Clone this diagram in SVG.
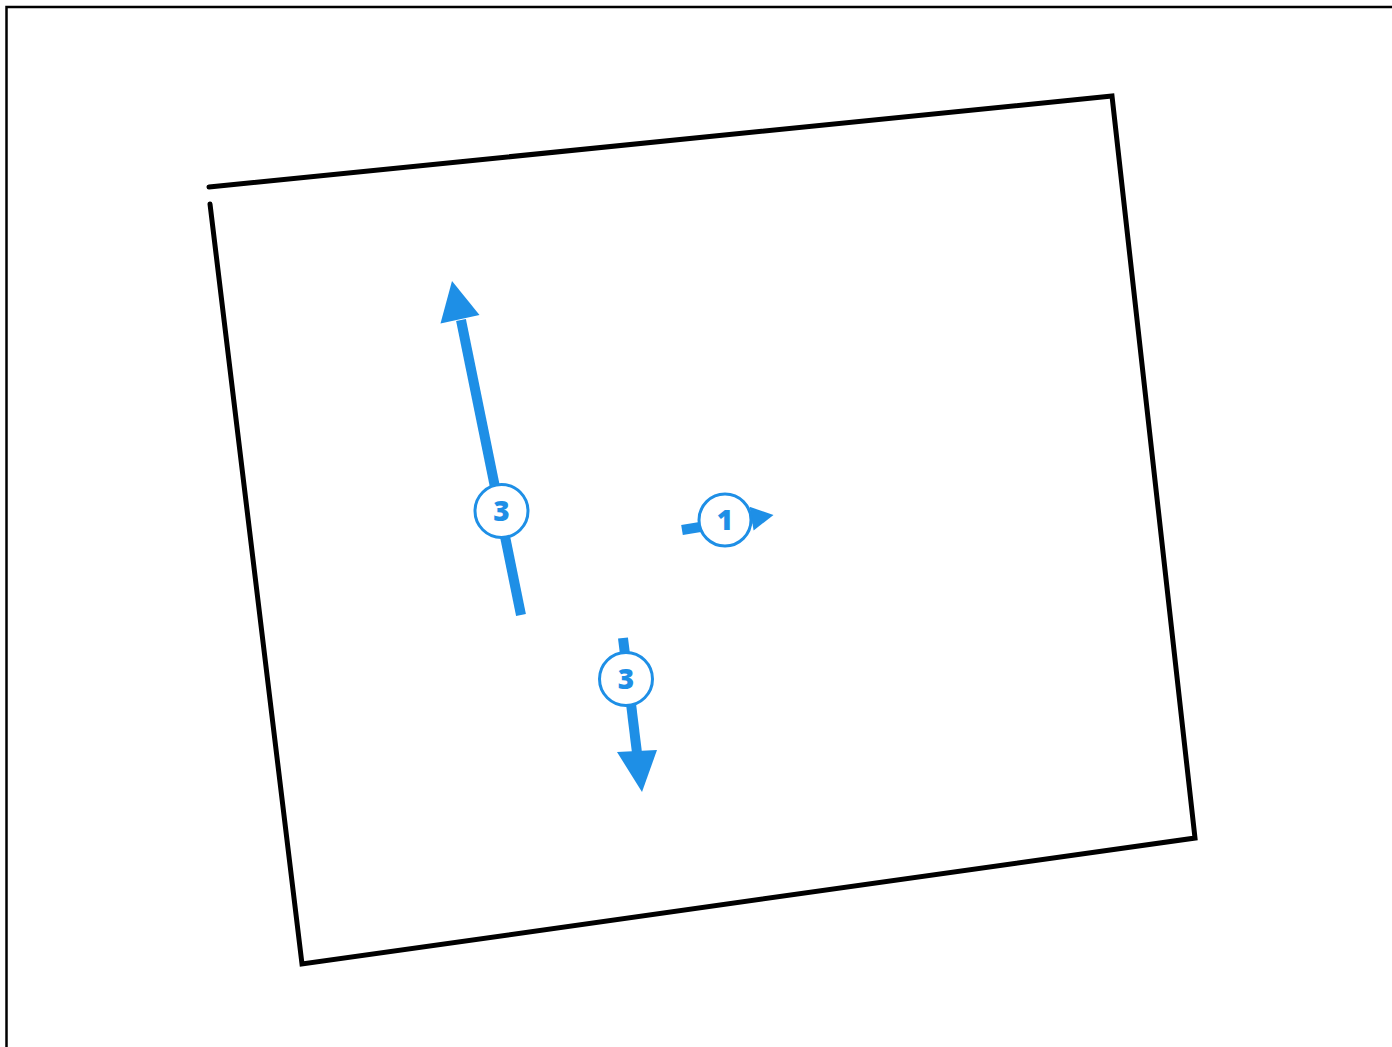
<svg xmlns="http://www.w3.org/2000/svg" width="1392" height="1047" viewBox="0 0 1392 1047">
<style>
.frame{fill:none;stroke:#000;stroke-width:2.5}
.wall{fill:none;stroke:#000;stroke-width:5;stroke-linecap:round;stroke-linejoin:miter}
.shaft{fill:none;stroke:#1e8fe6;stroke-width:10}
.head{fill:#1e8fe6;stroke:none}
.badge{fill:#fff;stroke:#1e8fe6;stroke-width:3}
.lbl{font-family:"Open Sans","DejaVu Sans",sans-serif;font-weight:800;font-size:28px;fill:#1e8fe6;text-anchor:middle;dominant-baseline:central}
</style>
<rect width="1392" height="1047" fill="#fff"/>
<rect class="frame" x="6.5" y="7" width="1400" height="1060"/>
<g id="room">
<polyline class="wall" points="209,187 1112,96 1195,838 302,964 210,204"/>
</g>
<g id="connectors">
<g id="arrow-a">
<line class="shaft" x1="521" y1="615" x2="461" y2="320"/>
<polygon class="head" points="452,281 479.5,315 440.5,323.5"/>
</g>
<g id="arrow-b">
<line class="shaft" x1="682" y1="530" x2="752" y2="518.5"/>
<polygon class="head" points="773.5,515 753.6,530.4 749.6,506.8"/>
</g>
<g id="arrow-c">
<line class="shaft" x1="623" y1="638" x2="637" y2="753"/>
<polygon class="head" points="642,792 657,750 617,752"/>
</g>
</g>
<g id="label-a">
<circle class="badge" cx="501.5" cy="511" r="26.5"/>
<text class="lbl" x="501.5" y="510">3</text>
</g>
<g id="label-b">
<circle class="badge" cx="725" cy="520" r="26"/>
<text class="lbl" x="725" y="519">1</text>
</g>
<g id="label-c">
<circle class="badge" cx="626" cy="679" r="26.5"/>
<text class="lbl" x="626" y="678">3</text>
</g>
</svg>
